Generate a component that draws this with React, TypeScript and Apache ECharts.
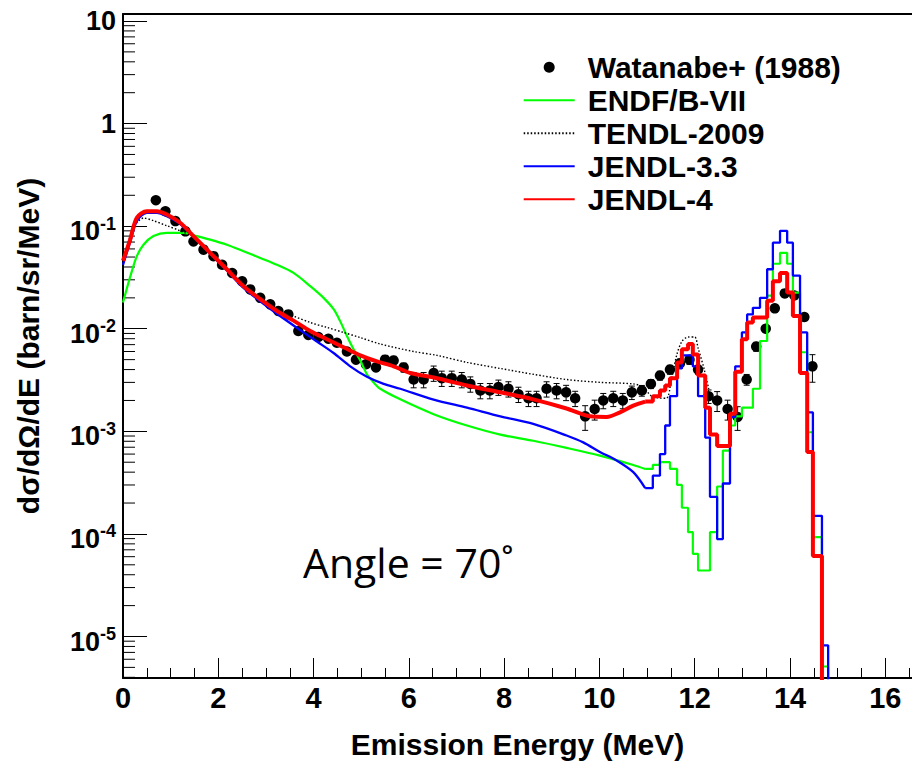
import React, { useEffect, useRef } from "react";
import * as echarts from "echarts";

// ---------------- data ----------------
// Watanabe+ (1988) experimental points
const expE = [0.69,0.89,1.10,1.31,1.48,1.69,1.90,2.08,2.29,2.50,2.67,2.88,3.09,3.26,3.47,3.68,3.89,4.10,4.31,4.49,4.70,4.89,5.10,5.31,5.50,5.68,5.89,6.10,6.31,6.52,6.69,6.90,7.11,7.29,7.50,7.70,7.88,8.09,8.30,8.51,8.68,8.89,9.10,9.30,9.49,9.70,9.90,10.08,10.29,10.49,10.68,10.89,11.08,11.27,11.48,11.69,11.89,12.07,12.29,12.47,12.69,12.90,13.09,13.29,13.49,13.68,13.89,14.09,14.30,14.47];
const expV = [0.179,0.140,0.112,0.089,0.071,0.059,0.051,0.042,0.035,0.029,0.0242,0.0200,0.0173,0.0149,0.0138,0.0095,0.0087,0.0083,0.0080,0.0073,0.0060,0.0050,0.0045,0.0042,0.0050,0.0049,0.0042,0.0032,0.0032,0.0037,0.0033,0.0033,0.0032,0.0029,0.0025,0.0025,0.0027,0.0026,0.0023,0.0021,0.0021,0.0026,0.0025,0.0024,0.0021,0.0014,0.00165,0.0020,0.0021,0.0020,0.0024,0.0025,0.0029,0.0035,0.0040,0.0046,0.0050,0.0040,0.0022,0.0020,0.00165,0.00138,0.0032,0.0067,0.0100,0.0158,0.0221,0.0211,0.0130,0.0043];
// relative uncertainty of each point
const expRelErr = [0.06,0.06,0.06,0.06,0.06,0.06,0.06,0.06,0.06,0.06,0.06,0.06,0.06,0.06,0.06,0.06,0.06,0.06,0.06,0.06,0.06,0.06,0.06,0.06,0.10,0.10,0.10,0.17,0.17,0.17,0.17,0.17,0.17,0.17,0.17,0.17,0.17,0.17,0.17,0.17,0.17,0.17,0.17,0.17,0.17,0.27,0.22,0.17,0.17,0.17,0.15,0.12,0.10,0.10,0.10,0.10,0.10,0.10,0.15,0.22,0.22,0.26,0.12,0.10,0.08,0.08,0.08,0.08,0.08,0.30];

// low-energy (continuous) parts of the evaluations
const endfLowE = [0,0.15,0.29,0.43,0.64,0.92,1.27,1.55,1.83,2.18,2.53,2.88,3.23,3.58,3.93,4.21,4.42,4.56,4.70,4.84,4.98,5.12,5.26,5.40,5.82,6.52,7.22,7.92,8.61,9.31,10.01,10.71];
const endfLowV = [0.018,0.032,0.051,0.066,0.080,0.086,0.086,0.080,0.074,0.066,0.057,0.049,0.042,0.035,0.026,0.020,0.0155,0.0118,0.0085,0.0063,0.0049,0.0036,0.0030,0.0026,0.00205,0.00147,0.00114,0.00093,0.00081,0.00069,0.00058,0.00047];

const jendl33LowE = [0,0.15,0.29,0.5,0.71,0.92,1.2,1.48,1.83,2.18,2.53,2.88,3.23,3.72,4.07,4.42,4.77,5.12,5.47,5.82,6.52,7.22,7.92,8.61,9.31,9.66,10.01,10.36,10.71];
const jendl33LowV = [0.042,0.07,0.112,0.135,0.135,0.125,0.105,0.079,0.054,0.037,0.025,0.0185,0.014,0.0097,0.0075,0.0058,0.0043,0.0034,0.0029,0.0026,0.00204,0.0017,0.0014,0.00118,0.00091,0.00078,0.00063,0.00052,0.0004];

const jendl4LowE = [0,0.15,0.29,0.5,0.71,0.92,1.2,1.48,1.83,2.18,2.53,2.88,3.23,3.58,3.93,4.28,4.63,4.98,5.33,5.68,6.03,6.52,7.22,7.92,8.61,9.31,9.80,10.15,10.43,10.71];
const jendl4LowV = [0.046,0.074,0.121,0.14,0.14,0.13,0.108,0.08,0.055,0.038,0.026,0.0194,0.0149,0.012,0.0095,0.0079,0.0066,0.0055,0.0048,0.0043,0.0037,0.00335,0.0028,0.0024,0.00205,0.00167,0.0014,0.00138,0.00153,0.00178];

const tendlE = [0,0.15,0.29,0.43,0.64,0.92,1.2,1.48,1.83,2.18,2.53,2.88,3.23,3.58,3.93,4.28,4.63,4.98,5.40,6.10,6.59,7.22,7.92,8.61,9.31,10.01,10.71,10.92,11.10,11.40,11.50,11.62,11.73,11.86,12.00,12.07,12.20,12.30];
const tendlV = [0.044,0.08,0.108,0.12,0.113,0.101,0.09,0.078,0.054,0.0375,0.0262,0.0198,0.0155,0.0133,0.0115,0.0103,0.0092,0.0082,0.0071,0.0060,0.0055,0.0047,0.0041,0.0036,0.0032,0.0030,0.0029,0.0027,0.0022,0.0021,0.0030,0.0055,0.0075,0.0083,0.0083,0.0065,0.0040,0.0025];

// histogram bin edges of the peak region (shared by the evaluations)
const peakEdges = [10.96,11.12,11.27,11.38,11.48,11.63,11.73,11.86,11.96,12.07,12.22,12.32,12.47,12.59,12.74,12.85,12.99,13.10,13.22,13.37,13.52,13.64,13.79,13.94,14.06,14.21,14.36,14.48,14.67,14.80];
const endfPeak = [0.00043,0.00047,0.0005,0.0005,0.00043,0.0003,0.00018,0.000104,6.4e-5,4.4e-5,4.4e-5,0.000104,0.00029,0.00065,0.00114,0.0014,0.0017,0.0017,0.0026,0.0076,0.021,0.043,0.055,0.043,0.0225,0.0059,0.00098,9.3e-5,5.1e-6];
const jendl33Peak = [0.00028,0.00037,0.0006,0.00114,0.0022,0.0041,0.0055,0.0055,0.0043,0.0022,0.00087,0.00023,8.9e-5,0.00031,0.00138,0.0043,0.0092,0.0138,0.016,0.02,0.038,0.069,0.09,0.069,0.033,0.0092,0.00153,0.00015,8.2e-6];
const jendl4Peak = [0.00195,0.0022,0.0025,0.0028,0.0033,0.0047,0.0063,0.0071,0.0056,0.0035,0.0017,0.00093,0.00072,0.00072,0.00148,0.0038,0.0079,0.0115,0.0129,0.0129,0.0187,0.029,0.035,0.0225,0.0133,0.0037,0.00063,6.1e-5,1e-9];

// axis decoration values
const yMinorMultipliers = [2,3,4,5,6,7,8,9];
const yMinorDecades = [-6,-5,-4,-3,-2,-1,0];
const Y_MIN = 3.94e-6;
const Y_MAX = 11.7;
const X_MIN = 0;
const X_MAX = 16.56;

const FONT = '"Liberation Sans", Arial, Helvetica, sans-serif';

function lowSeries(E: number[], V: number[], startE: number, startV: number) {
  const d = E.map((e, i) => [e, V[i]]);
  d.push([startE, startV]);
  return d;
}
function stepSeries(edges: number[], vals: number[]) {
  return edges.map((e, i) => [e, i < vals.length ? vals[i] : 1e-9]);
}

export default function App() {
  const ref = useRef<HTMLDivElement>(null);
  useEffect(() => {
    if (!ref.current) return;
    const chart = echarts.init(ref.current, undefined, { renderer: "svg" });

    const minorVals: number[][] = [];
    yMinorDecades.forEach((d) =>
      yMinorMultipliers.forEach((m) => {
        const v = m * Math.pow(10, d);
        if (v >= Y_MIN && v <= Y_MAX) minorVals.push([0, v]);
      })
    );

    const errData = expE.map((e, i) => [e, expV[i] * (1 - expRelErr[i]), expV[i] * (1 + expRelErr[i])]);

    const lineBase = {
      type: "line",
      symbol: "none",
      silent: true,
      clip: true,
      emphasis: { disabled: true },
    };
    const noSym = { opacity: 0, borderWidth: 0 };

    const option: any = {
      animation: false,
      grid: { left: 123, right: 0, top: 14, bottom: 84.5, containLabel: false },
      legend: {
        orient: "vertical",
        left: 522.7,
        top: 52.3,
        padding: 0,
        itemGap: 3,
        itemWidth: 51,
        itemHeight: 11,
        selectedMode: false,
        textStyle: { fontSize: 30, fontWeight: "bold", fontFamily: FONT, color: "#000", padding: [0, 0, 0, 8] },
        data: [
          { name: "Watanabe+ (1988)", icon: "circle", itemStyle: { color: "#000", opacity: 1 } },
          { name: "ENDF/B-VII", itemStyle: noSym },
          { name: "TENDL-2009", itemStyle: noSym },
          { name: "JENDL-3.3", itemStyle: noSym },
          { name: "JENDL-4", itemStyle: noSym },
        ],
      },
      xAxis: [
        {
          type: "value",
          min: X_MIN,
          max: X_MAX,
          interval: 2,
          position: "bottom",
          name: "Emission Energy (MeV)",
          nameLocation: "middle",
          nameGap: 51,
          nameTextStyle: { fontSize: 30, fontWeight: "bold", fontFamily: FONT, color: "#000" },
          axisLine: { show: true, onZero: false, lineStyle: { color: "#000", width: 2 } },
          axisTick: { show: true, inside: true, length: 20, lineStyle: { color: "#000", width: 1 } },
          minorTick: { show: true, splitNumber: 4, length: 10, lineStyle: { color: "#000", width: 1 } },
          axisLabel: { fontSize: 29, fontWeight: "bold", fontFamily: FONT, color: "#000", margin: 5, showMaxLabel: false },
          splitLine: { show: false },
        },
        {
          type: "value",
          min: X_MIN,
          max: X_MAX,
          position: "top",
          axisLine: { show: true, onZero: false, lineStyle: { color: "#000", width: 2 } },
          axisTick: { show: false },
          axisLabel: { show: false },
          splitLine: { show: false },
        },
      ],
      yAxis: {
        type: "log",
        logBase: 10,
        min: Y_MIN,
        max: Y_MAX,
        name: "dσ/dΩ/dE (barn/sr/MeV)",
        nameLocation: "middle",
        nameGap: 80,
        nameTextStyle: { fontSize: 30, fontWeight: "bold", fontFamily: FONT, color: "#000" },
        axisLine: { show: true, onZero: false, lineStyle: { color: "#000", width: 2 } },
        axisTick: { show: true, inside: true, length: 24, lineStyle: { color: "#000", width: 1 } },
        splitLine: { show: false },
        axisLabel: {
          margin: 7,
          showMinLabel: false,
          showMaxLabel: false,
          formatter: (v: number) => {
            const e = Math.round(Math.log10(v));
            if (e === 1) return "{p|10}";
            if (e === 0) return "{p|1}";
            return "{b|10}{s|" + e + "}";
          },
          rich: {
            p: { fontSize: 27, fontWeight: "bold", fontFamily: FONT, color: "#000", lineHeight: 27 },
            b: { fontSize: 27, fontWeight: "bold", fontFamily: FONT, color: "#000", lineHeight: 27, padding: [10, 0, 0, 0] },
            s: { fontSize: 18, fontWeight: "bold", fontFamily: FONT, color: "#000", lineHeight: 18, padding: [0, 0, 5, 0] },
          },
        },
      },
      graphic: [
        {
          type: "text",
          x: 303,
          y: 562,
          silent: true,
          style: {
            text: "Angle = 70˚",
            font: '41px "Open Sans"',
            fill: "#000",
            verticalAlign: "middle",
            align: "left",
          },
        },
      ],
      series: [
        {
          type: "custom",
          name: "errors",
          silent: true,
          clip: true,
          encode: { x: 0, y: [1, 2] },
          data: errData,
          renderItem: (params: any, api: any) => {
            const x = api.value(0);
            const p1 = api.coord([x, api.value(2)]);
            const p2 = api.coord([x, api.value(1)]);
            const w = 3;
            const st = { stroke: "#000", lineWidth: 1 };
            return {
              type: "group",
              children: [
                { type: "line", shape: { x1: p1[0], y1: p1[1], x2: p2[0], y2: p2[1] }, style: st },
                { type: "line", shape: { x1: p1[0] - w, y1: p1[1], x2: p1[0] + w, y2: p1[1] }, style: st },
                { type: "line", shape: { x1: p2[0] - w, y1: p2[1], x2: p2[0] + w, y2: p2[1] }, style: st },
              ],
            };
          },
        },
        {
          type: "scatter",
          name: "Watanabe+ (1988)",
          symbol: "circle",
          symbolSize: 10.5,
          silent: true,
          itemStyle: { color: "#000", opacity: 1 },
          emphasis: { disabled: true },
          data: expE.map((e, i) => [e, expV[i]]),
        },
        {
          ...lineBase,
          name: "ENDF/B-VII",
          smooth: 0.3,
          lineStyle: { color: "#00ff00", width: 2.2 },
          itemStyle: { color: "#00ff00" },
          data: lowSeries(endfLowE, endfLowV, peakEdges[0], endfPeak[0]),
        },
        {
          ...lineBase,
          name: "ENDF/B-VII",
          step: "end",
          lineStyle: { color: "#00ff00", width: 2.2 },
          itemStyle: { color: "#00ff00" },
          data: stepSeries(peakEdges, endfPeak),
        },
        {
          ...lineBase,
          name: "TENDL-2009",
          smooth: 0.3,
          lineStyle: { color: "#000", width: 1.4, type: [1.5, 2] },
          itemStyle: { color: "#000" },
          data: tendlE.map((e, i) => [e, tendlV[i]]),
        },
        {
          ...lineBase,
          name: "JENDL-3.3",
          smooth: 0.3,
          lineStyle: { color: "#0000ff", width: 2.3 },
          itemStyle: { color: "#0000ff" },
          data: lowSeries(jendl33LowE, jendl33LowV, peakEdges[0], jendl33Peak[0]),
        },
        {
          ...lineBase,
          name: "JENDL-3.3",
          step: "end",
          lineStyle: { color: "#0000ff", width: 2.3 },
          itemStyle: { color: "#0000ff" },
          data: stepSeries(peakEdges, jendl33Peak),
        },
        {
          ...lineBase,
          name: "JENDL-4",
          smooth: 0.3,
          lineStyle: { color: "#ff0000", width: 4 },
          itemStyle: { color: "#ff0000" },
          data: lowSeries(jendl4LowE, jendl4LowV, peakEdges[0], jendl4Peak[0]),
        },
        {
          ...lineBase,
          name: "JENDL-4",
          step: "end",
          lineStyle: { color: "#ff0000", width: 4 },
          itemStyle: { color: "#ff0000" },
          data: stepSeries(peakEdges, jendl4Peak),
        },
        {
          type: "custom",
          name: "yMinorTicks",
          silent: true,
          clip: false,
          encode: { x: 0, y: 1 },
          data: minorVals,
          renderItem: (params: any, api: any) => {
            const pt = api.coord([0, api.value(1)]);
            return {
              type: "line",
              shape: { x1: pt[0], y1: pt[1], x2: pt[0] + 12, y2: pt[1] },
              style: { stroke: "#000", lineWidth: 1 },
            };
          },
        },
      ],
    };
    chart.setOption(option);
    return () => chart.dispose();
  }, []);

  return (
    <div
      ref={ref}
      style={{ position: "absolute", left: 0, top: 0, width: 912, height: 764, background: "#fff" }}
    />
  );
}
